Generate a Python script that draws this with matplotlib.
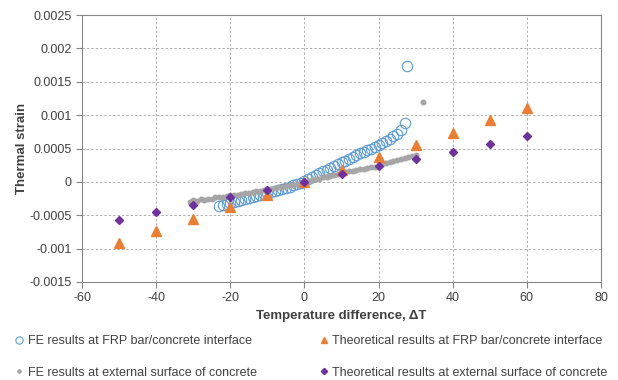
import matplotlib.pyplot as plt
import numpy as np

plt.rcParams['font.family'] = ['Liberation Sans', 'DejaVu Sans']
plt.rcParams['axes.unicode_minus'] = False

# FE results at FRP bar/concrete interface
fe_int_t = list(range(-23, 28)) + [27.7]
fe_int_e = [-0.00036, -0.00035, -0.00033, -0.00032, -0.00030, -0.00029, -0.00027,
            -0.00026, -0.00024, -0.00023, -0.00021, -0.00020, -0.00018, -0.00017,
            -0.00015, -0.00014, -0.00012, -0.00011, -0.00009, -0.00007, -0.00005,
            -0.00003, -0.00001, 0.00001, 0.00004, 0.00007, 0.00010, 0.00013,
            0.00016, 0.00018, 0.00021, 0.00024, 0.00027, 0.00030, 0.00032,
            0.00035, 0.00038, 0.00040, 0.00043, 0.00045, 0.00048, 0.00050,
            0.00053, 0.00055, 0.00058, 0.00061, 0.00064, 0.00068, 0.00072,
            0.00078, 0.00088, 0.00174]

# FE results at external surface of concrete
fe_ext_t = list(range(-31, 31)) + [32]
fe_ext_e = [-0.00030, -0.00027, -0.00028, -0.00026, -0.00027, -0.00025, -0.00025,
            -0.00023, -0.00023, -0.00022, -0.00021, -0.00020, -0.00019, -0.00019,
            -0.00018, -0.00017, -0.00016, -0.00015, -0.00014, -0.00013, -0.00012,
            -0.00011, -0.00010, -0.00009, -0.00008, -0.00007, -0.00006, -0.00005,
            -0.00004, -0.00003, -0.00001, 0.0, 0.00001, 0.00003, 0.00004, 0.00005,
            0.00007, 0.00008, 0.00009, 0.00011, 0.00012, 0.00013, 0.00015,
            0.00016, 0.00017, 0.00018, 0.00019, 0.00020, 0.00021, 0.00022,
            0.00023, 0.00025, 0.00027, 0.00029, 0.00030, 0.00031, 0.00033,
            0.00035, 0.00036, 0.00037, 0.00039, 0.00041, 0.0012]

# theoretical results
theo_t = [-50, -40, -30, -20, -10, 0, 10, 20, 30, 40, 50, 60]
theo_int_e = [-0.00091, -0.00074, -0.00055, -0.00037, -0.00019, 0.0,
              0.00018, 0.00037, 0.00055, 0.00073, 0.00092, 0.0011]
theo_ext_e = [-0.000575, -0.000455, -0.000344, -0.00023, -0.00012, 0.0,
              0.000124, 0.000234, 0.000338, 0.000449, 0.000573, 0.000689]

fig = plt.figure(figsize=(6.18, 3.80), dpi=100)
ax = fig.add_axes([0.1327, 0.2579, 0.8398, 0.7026])

h1, = ax.plot(fe_int_t, fe_int_e, 'o', mfc='none', mec='#5B9BD5', ms=7.5, mew=0.8,
              ls='none', label='FE results at FRP bar/concrete interface')
h2, = ax.plot(fe_ext_t, fe_ext_e, 'o', color='#A5A5A5', ms=3.3, ls='none',
              label='FE results at external surface of concrete')
h3, = ax.plot(theo_t, theo_int_e, '^', color='#ED7D31', ms=7, ls='none',
              label='Theoretical results at FRP bar/concrete interface')
h4, = ax.plot(theo_t, theo_ext_e, 'D', color='#7030A0', ms=4.5, ls='none',
              label='Theoretical results at external surface of concrete')

ax.set_xlim(-60, 80)
ax.set_ylim(-0.0015, 0.0025)
ax.set_xticks(np.arange(-60, 81, 20))
ax.set_yticks(np.arange(-0.0015, 0.00251, 0.0005))
ax.set_yticklabels(['-0.0015', '-0.001', '-0.0005', '0', '0.0005', '0.001',
                    '0.0015', '0.002', '0.0025'])
ax.grid(True, ls=(0, (2.5, 2)), color='#B0B0B0', lw=0.7)
ax.set_axisbelow(True)
for s in ax.spines.values():
    s.set_color('#868686')
ax.tick_params(direction='out', length=4, color='#868686', labelsize=9,
               labelcolor='#404040')

ax.set_xlabel('Temperature difference, ΔT', fontsize=9.5, fontweight='bold',
              color='#404040', labelpad=4)
ax.set_ylabel('Thermal strain', fontsize=9.5, fontweight='bold', color='#404040',
              labelpad=1)

kw = dict(frameon=False, fontsize=9, handlelength=0.6, handletextpad=0.4,
          labelspacing=1.55, markerscale=0.7, labelcolor='#404040')
leg1 = fig.legend(handles=[h1, h2], loc='upper left', bbox_to_anchor=(0.0065, 0.147), **kw)
leg2 = fig.legend(handles=[h3, h4], loc='upper left', bbox_to_anchor=(0.4994, 0.147), **kw)

fig.savefig('out.png', dpi=100)
